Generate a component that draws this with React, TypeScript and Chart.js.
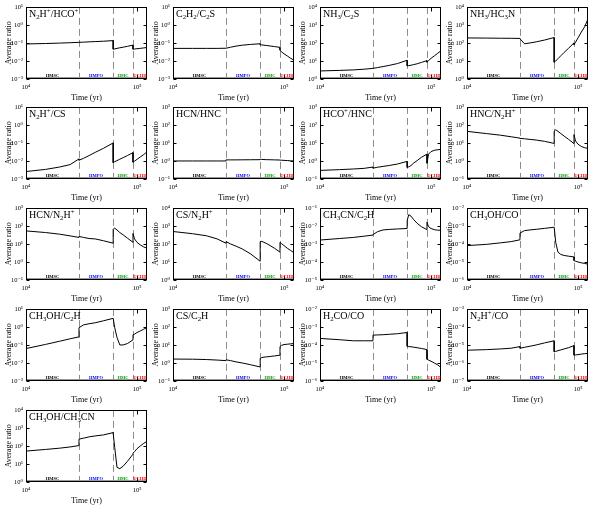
import React, { useEffect, useRef } from "react";
import { Chart, registerables } from "chart.js";
Chart.register(...registerables);

const FONT = "'Liberation Serif', 'DejaVu Serif', serif";

// time grid (yr); repeated values mark jumps at stage boundaries
const TIMES = [1e4, 1.5e4, 2e4, 2.5e4, 3e4, 3e4, 3.3e4, 3.7e4, 4.2e4, 5e4, 6.1e4, 6.1e4, 6.3e4, 6.6e4, 7e4, 7.5e4, 8.2e4, 9.2e4, 9.2e4, 9.5e4, 1e5, 1.07e5, 1.15e5, 1.23e5];
const T_MIN = 1e4;
const T_MAX = 1.23e5;
const X_MAJOR = [1e4, 1e5];
const STAGE_EDGES = [3.0e4, 6.1e4, 9.2e4];
const STAGE_LABELS = ["HMSC", "HMPO", "HMC", "UCHII"];
const STAGE_COLORS = ["#000000", "#0000ff", "#00a000", "#ff0000"];

const TITLES = [
  "N_2H^+/HCO^+", "C_2H_2/C_2S", "NH_3/C_2S", "NH_3/HC_3N",
  "N_2H^+/CS", "HCN/HNC", "HCO^+/HNC", "HNC/N_2H^+",
  "HCN/N_2H^+", "CS/N_2H^+", "CH_3CN/C_2H", "CH_3OH/CO",
  "CH_3OH/C_2H", "CS/C_2H", "H_2CO/CO", "N_2H^+/CO",
  "CH_3OH/CH_3CN",
];
const Y_EXP = [
  [-3, 1], [-3, 1], [0, 4], [0, 4],
  [-3, 1], [-1, 3], [-1, 3], [-1, 3],
  [-1, 3], [0, 4], [-5, -1], [-6, -2],
  [-3, 1], [-1, 3], [-6, -2], [-7, -3],
  [0, 4],
];

const R_N2HP_HCOP = [0.088, 0.093, 0.098, 0.103, 0.108, 0.108, 0.111, 0.115, 0.119, 0.125, 0.135, 0.045, 0.047, 0.05, 0.054, 0.058, 0.065, 0.076, 0.045, 0.046, 0.048, 0.05, 0.053, 0.056];
const R_C2H2_C2S = [0.05, 0.05, 0.05, 0.05, 0.051, 0.051, 0.058, 0.067, 0.075, 0.083, 0.09, 0.08, 0.078, 0.075, 0.072, 0.068, 0.063, 0.057, 0.04, 0.032, 0.025, 0.019, 0.014, 0.011];
const R_NH3_C2S = [2.8, 3.0, 3.2, 3.5, 3.9, 3.9, 4.3, 4.9, 5.7, 7.2, 11, 5.3, 5.5, 5.8, 6.3, 7, 8.3, 10.5, 8.5, 10.5, 14, 19, 27, 37];
const R_NH3_HC3N = [190, 186, 183, 181, 178, 170, 90, 100, 115, 145, 200, 8.5, 10, 13.5, 19.5, 30, 50, 100, 80, 110, 190, 400, 800, 2200];
const R_N2HP_CS = [0.0026, 0.0034, 0.0046, 0.0063, 0.013, 0.011, 0.014, 0.02, 0.03, 0.051, 0.1, 0.008, 0.0092, 0.0104, 0.0126, 0.0153, 0.02, 0.029, 0.0085, 0.0098, 0.0123, 0.0166, 0.0228, 0.032];
const R_HCN_HNC = [1.0, 1.0, 1.0, 1.0, 1.0, 1.15, 1.15, 1.15, 1.16, 1.17, 1.18, 1.25, 1.22, 1.2, 1.18, 1.17, 1.15, 1.13, 1.12, 1.1, 1.08, 1.05, 1.02, 1.0];
const R_HCOP_HNC = [0.3, 0.33, 0.36, 0.39, 0.46, 0.4, 0.45, 0.5, 0.56, 0.68, 0.95, 0.44, 0.47, 0.56, 0.78, 1.05, 1.6, 2.4, 0.75, 2.4, 3.3, 3.9, 4.2, 4.4];
const R_HNC_N2HP = [44, 33, 27, 22, 18.5, 18, 17, 15.7, 14.5, 12.3, 9.4, 45, 54, 44, 33, 24, 16, 9.2, 29, 12.8, 8.5, 6.4, 5.4, 5.0];
const R_HCN_N2HP = [53, 43, 35, 28, 23, 26, 23, 20, 19, 15, 11, 66, 75, 60, 43, 32, 21, 12.3, 38, 19, 12.3, 8.8, 6.8, 5.8];
const R_CS_N2HP = [490, 370, 285, 190, 110, 135, 100, 75, 53, 28, 11, 135, 140, 123, 104, 81, 58, 35, 123, 104, 81, 58, 43, 32];
const R_CH3CN_C2H = [0.00165, 0.002, 0.0023, 0.0027, 0.0031, 0.0033, 0.0048, 0.006, 0.0064, 0.0068, 0.0072, 0.02, 0.042, 0.035, 0.022, 0.014, 0.009, 0.0062, 0.016, 0.009, 0.0072, 0.0062, 0.0058, 0.0058];
const R_CH3OH_CO = [8.1e-5, 9.5e-5, 1.15e-4, 1.35e-4, 1.7e-4, 4e-4, 5.5e-4, 6e-4, 6.5e-4, 7.3e-4, 8.5e-4, 8.5e-4, 1.2e-4, 3.5e-5, 2.6e-5, 2.3e-5, 2.1e-5, 1.9e-5, 1.2e-5, 1.1e-5, 1e-5, 9e-6, 8.3e-6, 7.5e-6];
const R_CH3OH_C2H = [0.063, 0.107, 0.16, 0.22, 0.28, 0.9, 1.3, 1.5, 1.7, 2.2, 3.0, 3.0, 0.9, 0.26, 0.1, 0.1, 0.12, 0.19, 0.37, 0.4, 0.49, 0.6, 0.75, 0.92];
const R_CS_C2H = [1.65, 1.62, 1.55, 1.45, 1.35, 1.5, 1.35, 1.15, 1.0, 0.8, 0.6, 1.8, 2.0, 2.1, 2.2, 2.3, 2.45, 2.7, 8.1, 9.5, 10.5, 11, 11.5, 12];
const R_H2CO_CO = [2.3e-4, 1.95e-4, 1.7e-4, 1.7e-4, 1.7e-4, 3.5e-4, 3.6e-4, 3.7e-4, 3.9e-4, 4.2e-4, 4.9e-4, 8.4e-5, 8.2e-5, 7.9e-5, 7.5e-5, 7e-5, 6.4e-5, 5.5e-5, 1.6e-5, 1.45e-5, 1.25e-5, 1e-5, 7.8e-6, 5.6e-6];
const R_N2HP_CO = [5.1e-6, 5.5e-6, 6e-6, 6.6e-6, 8.1e-6, 6.6e-6, 7.4e-6, 8.5e-6, 1e-5, 1.3e-5, 1.7e-5, 4.2e-6, 4.4e-6, 4.8e-6, 5.3e-6, 6e-6, 7e-6, 9.2e-6, 2.7e-6, 2.8e-6, 2.9e-6, 3.1e-6, 3.3e-6, 3.4e-6];
const R_CH3OH_CH3CN = [52, 64, 75, 88, 105, 240, 270, 320, 360, 410, 550, 500, 80, 6.5, 5.5, 7.5, 14, 35, 40, 48, 70, 100, 140, 180];

const SERIES = [
  R_N2HP_HCOP, R_C2H2_C2S, R_NH3_C2S, R_NH3_HC3N,
  R_N2HP_CS, R_HCN_HNC, R_HCOP_HNC, R_HNC_N2HP,
  R_HCN_N2HP, R_CS_N2HP, R_CH3CN_C2H, R_CH3OH_CO,
  R_CH3OH_C2H, R_CS_C2H, R_H2CO_CO, R_N2HP_CO,
  R_CH3OH_CH3CN,
];

const COL_LEFT = [0, 147, 294, 441];
const ROW_TOP = [0, 100, 201, 302, 403];
const CW = 148;
const CH = 104;

const SUP: Record<string, string> = { "0": "⁰", "1": "¹", "2": "²", "3": "³", "4": "⁴", "5": "⁵", "6": "⁶", "7": "⁷", "8": "⁸", "9": "⁹", "-": "⁻" };
const pow10Label = (v: number) => {
  const e = Math.round(Math.log10(v));
  return "10" + String(e).split("").map((c) => SUP[c]).join("");
};

function drawRich(ctx: CanvasRenderingContext2D, markup: string, x: number, y: number, size: number) {
  let i = 0;
  let cx = x;
  ctx.textBaseline = "alphabetic";
  ctx.textAlign = "left";
  while (i < markup.length) {
    let ch = markup[i];
    let mode = 0;
    if (ch === "_" || ch === "^") {
      mode = ch === "_" ? 1 : 2;
      i++;
      ch = markup[i];
    }
    const fs = mode ? size * 0.68 : size;
    ctx.font = `${fs}px ${FONT}`;
    const dy = mode === 1 ? size * 0.25 : mode === 2 ? -size * 0.4 : 0;
    ctx.fillText(ch, cx, y + dy);
    cx += ctx.measureText(ch).width;
    i++;
  }
}

function makePlugin(p: number) {
  return {
    id: "deco" + p,
    beforeDatasetsDraw(chart: any) {
      const { ctx, chartArea: a, scales } = chart;
      const xs = scales.x;
      ctx.save();
      ctx.strokeStyle = "#8c8c8c";
      ctx.lineWidth = 1;
      ctx.setLineDash([7, 4]);
      STAGE_EDGES.forEach((t) => {
        const px = Math.round(xs.getPixelForValue(t)) + 0.5;
        ctx.beginPath();
        ctx.moveTo(px, a.top);
        ctx.lineTo(px, a.bottom);
        ctx.stroke();
      });
      ctx.restore();
    },
    afterDraw(chart: any) {
      const { ctx, chartArea: a, scales } = chart;
      const xs = scales.x;
      const ys = scales.y;
      const L = Math.round(a.left) + 0.5;
      const R = Math.round(a.right) - 0.5;
      const T = Math.round(a.top) + 0.5;
      const B = Math.round(a.bottom) - 0.5;
      ctx.save();
      // grey band along the bottom axis
      ctx.strokeStyle = "#9a9a9a";
      ctx.lineWidth = 1;
      ctx.beginPath();
      ctx.moveTo(L, B - 1);
      ctx.lineTo(R, B - 1);
      ctx.stroke();
      ctx.strokeStyle = "#000";
      ctx.strokeRect(L, T, R - L, B - T);
      ctx.beginPath();
      X_MAJOR.forEach((v) => {
        const px = Math.round(xs.getPixelForValue(v)) + 0.5;
        ctx.moveTo(px, B);
        ctx.lineTo(px, B - 4);
        ctx.moveTo(px, T);
        ctx.lineTo(px, T + 4);
      });
      const [lo, hi] = Y_EXP[p];
      for (let e = lo; e <= hi; e++) {
        const py = Math.round(ys.getPixelForValue(Math.pow(10, e))) + 0.5;
        ctx.moveTo(L, py);
        ctx.lineTo(L + 3, py);
        ctx.moveTo(R, py);
        ctx.lineTo(R - 3, py);
      }
      ctx.stroke();
      // stage labels
      const bounds = [T_MIN, ...STAGE_EDGES, T_MAX];
      ctx.font = `bold 4.5px ${FONT}`;
      ctx.textAlign = "center";
      ctx.textBaseline = "middle";
      for (let i = 0; i < STAGE_LABELS.length; i++) {
        const cx = (xs.getPixelForValue(bounds[i]) + xs.getPixelForValue(bounds[i + 1])) / 2;
        ctx.fillStyle = STAGE_COLORS[i];
        ctx.fillText(STAGE_LABELS[i], cx, a.bottom - 3.5);
      }
      // title
      ctx.fillStyle = "#000";
      drawRich(ctx, TITLES[p], a.left + 3, a.top + 10, 10);
      ctx.restore();
    },
  };
}

function makeConfig(p: number): any {
  const [lo, hi] = Y_EXP[p];
  const vals = SERIES[p];
  return {
    type: "line",
    data: {
      datasets: [
        {
          data: TIMES.map((t, i) => ({ x: t, y: vals[i] })),
          borderColor: "#000",
          borderWidth: 1,
          pointRadius: 0,
          tension: 0,
          fill: false,
        },
      ],
    },
    options: {
      responsive: false,
      animation: false,
      events: [],
      layout: { padding: { top: 5, right: 1, left: 0, bottom: 0 } },
      plugins: { legend: { display: false }, tooltip: { enabled: false } },
      scales: {
        x: {
          type: "logarithmic",
          min: T_MIN,
          max: T_MAX,
          position: "bottom",
          grid: { display: false, drawTicks: false },
          border: { display: false },
          afterBuildTicks: (s: any) => {
            s.ticks = X_MAJOR.map((v) => ({ value: v }));
          },
          afterFit: (s: any) => {
            s.height = 25;
          },
          ticks: {
            autoSkip: false,
            maxRotation: 0,
            padding: 4,
            color: "#000",
            font: { family: FONT, size: 6.5 },
            callback: (v: any) => pow10Label(Number(v)),
          },
          title: {
            display: true,
            text: "Time (yr)",
            color: "#000",
            font: { family: FONT, size: 8 },
            padding: { top: 0, bottom: 1 },
          },
        },
        y: {
          type: "logarithmic",
          min: Math.pow(10, lo),
          max: Math.pow(10, hi),
          grid: { display: false, drawTicks: false },
          border: { display: false },
          afterBuildTicks: (s: any) => {
            const t: any[] = [];
            for (let e = lo; e <= hi; e++) t.push({ value: Math.pow(10, e) });
            s.ticks = t;
          },
          afterFit: (s: any) => {
            s.width = 26;
          },
          ticks: {
            autoSkip: false,
            padding: 3,
            color: "#000",
            font: { family: FONT, size: 6.5 },
            callback: (v: any) => pow10Label(Number(v)),
          },
          title: {
            display: true,
            text: "Average ratio",
            color: "#000",
            font: { family: FONT, size: 8 },
            padding: { top: 4, bottom: 0 },
          },
        },
      },
    },
    plugins: [makePlugin(p)],
  };
}

function Panel({ p }: { p: number }) {
  const ref = useRef<HTMLCanvasElement | null>(null);
  useEffect(() => {
    if (!ref.current) return;
    const chart = new Chart(ref.current, makeConfig(p));
    return () => chart.destroy();
  }, [p]);
  const col = p % 4;
  const row = Math.floor(p / 4);
  return (
    <canvas
      ref={ref}
      width={CW}
      height={CH}
      style={{ position: "absolute", left: COL_LEFT[col], top: ROW_TOP[row], width: CW, height: CH }}
    />
  );
}

export default function App() {
  return (
    <div style={{ position: "absolute", left: 0, top: 0, width: 590, height: 507, background: "#fff" }}>
      {SERIES.map((_, p) => (
        <Panel key={p} p={p} />
      ))}
    </div>
  );
}
